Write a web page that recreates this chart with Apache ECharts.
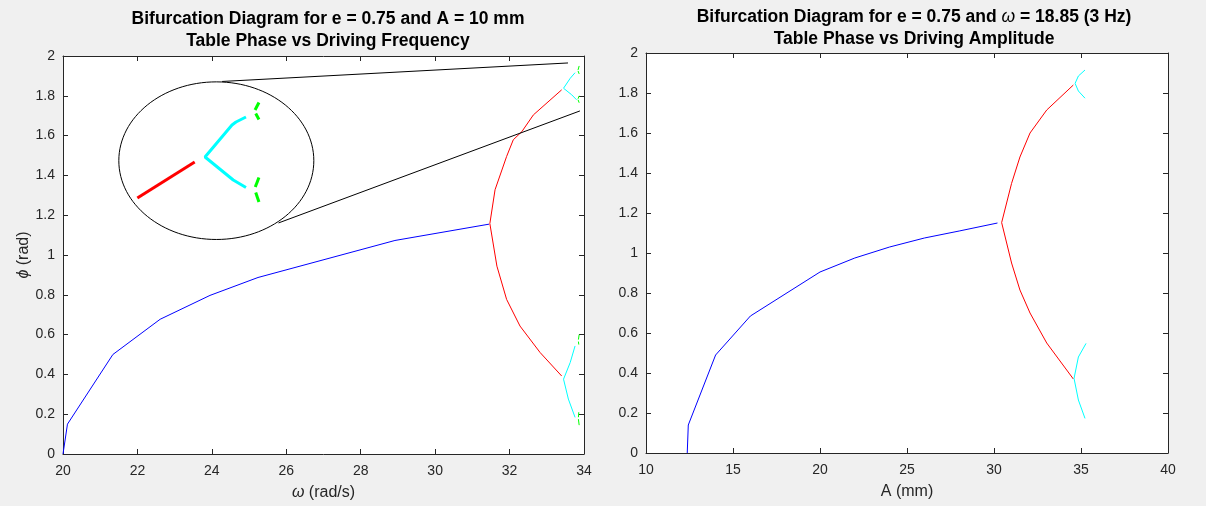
<!DOCTYPE html>
<html>
<head>
<meta charset="utf-8">
<script src="https://cdn.jsdelivr.net/npm/echarts@6/dist/echarts.min.js"></script>
<style>
  html, body { margin: 0; padding: 0; background: #f0f0f0; }
  #chart { width: 1206px; height: 506px; }
</style>
</head>
<body>
<div id="chart"></div>
<script>
// ---- Frequency sweep, e = 0.75, A = 10 mm : [omega (rad/s), phi (rad)] ----
const freqPeriod1 = [[20.0, 0], [20.12, 0.15], [21.34, 0.50], [22.61, 0.677], [23.95, 0.797],
                     [25.24, 0.887], [28.92, 1.073], [31.45, 1.155]];
const freqPeriod2 = [[33.40, 1.830], [32.64, 1.704], [32.33, 1.620], [32.10, 1.579], [31.92, 1.495],
                     [31.61, 1.328], [31.47, 1.158], [31.66, 0.944], [31.92, 0.777], [32.28, 0.643],
                     [32.82, 0.510], [33.40, 0.392]];
const freqPeriod4 = [
  [[33.76, 1.916], [33.63, 1.888], [33.45, 1.838], [33.67, 1.805], [33.80, 1.780]],
  [[33.76, 0.543], [33.63, 0.460], [33.45, 0.376], [33.58, 0.276], [33.76, 0.184]]
];
const freqPeriod8 = [
  [[33.87, 1.950], [33.84, 1.930]], [[33.84, 1.925], [33.87, 1.910]],
  [[33.87, 1.800], [33.84, 1.785]], [[33.84, 1.780], [33.87, 1.765]],
  [[33.87, 0.600], [33.85, 0.575]], [[33.85, 0.565], [33.86, 0.550]],
  [[33.86, 0.210], [33.85, 0.185]], [[33.85, 0.175], [33.87, 0.145]]
];

// ---- Magnified view of the upper branch near omega = 33.5 rad/s ----
const zoomPeriod2 = [[32.83, 1.758], [33.33, 1.830]];
const zoomPeriod4 = [[33.777, 1.920], [33.69, 1.910], [33.655, 1.904], [33.42, 1.840],
                     [33.666, 1.794], [33.777, 1.779]];
const zoomPeriod8 = [
  [[33.89, 1.949], [33.856, 1.934]], [[33.862, 1.927], [33.89, 1.915]],
  [[33.89, 1.799], [33.858, 1.780]], [[33.862, 1.769], [33.89, 1.750]]
];
const zoomWindow = { omega: [32.67, 34.37], phi: [1.674, 1.99] };
// lens outline (centre and semi-axes, in omega / phi units) and its two rays
const lensFrame = { center: [24.12, 1.474], semiAxes: [2.62, 0.396] };
const lensRays = [
  [[24.27, 1.872], [33.57, 1.965]],
  [[25.79, 1.161], [33.89, 1.724]]
];

// ---- Amplitude sweep, e = 0.75, omega = 18.85 rad/s : [A (mm), phi (rad)] ----
const ampPeriod1 = [[12.37, 0], [12.43, 0.14], [14.0, 0.49], [16.0, 0.685], [20.0, 0.905],
                    [22.0, 0.975], [24.0, 1.03], [26.0, 1.075], [28.0, 1.11], [30.2, 1.15]];
const ampPeriod2 = [[34.56, 1.840], [33.03, 1.715], [32.07, 1.600], [31.49, 1.480], [31.01, 1.348],
                    [30.44, 1.152], [31.01, 0.950], [31.49, 0.815], [32.07, 0.700], [33.03, 0.550],
                    [34.56, 0.370]];
const ampPeriod4 = [
  [[35.23, 1.915], [34.85, 1.885], [34.66, 1.848], [34.85, 1.810], [35.23, 1.774]],
  [[35.29, 0.548], [34.85, 0.480], [34.60, 0.373], [34.85, 0.265], [35.23, 0.173]]
];

// ---- Axes ----
const freqAxis = { min: 20, max: 34, interval: 2 };
const ampAxis = { min: 10, max: 40, interval: 5 };
const phiAxis = { min: 0, max: 2, interval: 0.2 };

const FONT = '"Liberation Sans", Arial, Helvetica, sans-serif';
const AXIS_COLOR = '#262626';
const COLORS = { p1: '#0000ff', p2: '#ff0000', p4: '#00ffff', p8: '#00ff00' };

function valueAxis(gridIndex, range, position, extra) {
  return Object.assign({
    type: 'value', gridIndex, position,
    min: range.min, max: range.max, interval: range.interval,
    axisLine: { show: true, onZero: false, lineStyle: { color: AXIS_COLOR, width: 1 } },
    axisTick: { show: true, inside: true, length: 5, lineStyle: { color: AXIS_COLOR } },
    axisLabel: { show: true, color: AXIS_COLOR, fontSize: 14, fontFamily: FONT,
                 margin: position === 'bottom' ? 10 : 8 },
    splitLine: { show: false }
  }, extra || {});
}
function mirrorAxis(gridIndex, range, position) {
  return valueAxis(gridIndex, range, position, { axisLabel: { show: false } });
}
const nameStyle = {
  color: AXIS_COLOR, fontSize: 16, fontFamily: FONT,
  rich: { i: { fontStyle: 'italic', fontSize: 16, fontFamily: FONT, color: AXIS_COLOR } }
};

function line(data, color, xi, yi, width, z) {
  return {
    type: 'line', data, xAxisIndex: xi, yAxisIndex: yi, symbol: 'none', silent: true,
    animation: false, z: z || 2,
    lineStyle: { color, width: width || 1 }
  };
}

const series = [];
// frequency sweep
series.push(line(freqPeriod1, COLORS.p1, 0, 0));
series.push(line(freqPeriod2, COLORS.p2, 0, 0));
freqPeriod4.forEach(s => series.push(line(s, COLORS.p4, 0, 0)));
freqPeriod8.forEach(s => series.push(line(s, COLORS.p8, 0, 0)));
// rays from the lens to the region it magnifies
lensRays.forEach(s => series.push(line(s, '#000000', 0, 0, 1, 4)));
// lens outline
series.push({
  type: 'custom', xAxisIndex: 0, yAxisIndex: 0, z: 5, silent: true, animation: false, clip: false,
  data: [[lensFrame.center[0], lensFrame.center[1], lensFrame.semiAxes[0], lensFrame.semiAxes[1]]],
  renderItem(params, api) {
    const c = api.coord([api.value(0), api.value(1)]);
    const s = api.size([api.value(2), api.value(3)]);
    return {
      type: 'ellipse',
      shape: { cx: c[0], cy: c[1], rx: s[0], ry: s[1] },
      style: { fill: '#ffffff', stroke: '#000000', lineWidth: 1 }
    };
  }
});
// magnified curves
series.push(line(zoomPeriod2, COLORS.p2, 4, 4, 3, 6));
series.push(line(zoomPeriod4, COLORS.p4, 4, 4, 3, 6));
zoomPeriod8.forEach(s => series.push(line(s, COLORS.p8, 4, 4, 3, 6)));
// amplitude sweep
series.push(line(ampPeriod1, COLORS.p1, 2, 2));
series.push(line(ampPeriod2, COLORS.p2, 2, 2));
ampPeriod4.forEach(s => series.push(line(s, COLORS.p4, 2, 2)));

const titleStyle = {
  fontSize: 17.5, fontWeight: 'bold', color: '#000000', fontFamily: FONT, lineHeight: 22,
  rich: { i: { fontStyle: 'italic', fontWeight: 'normal', fontSize: 17.5, fontFamily: FONT, color: '#000000', lineHeight: 22 } }
};

const option = {
  backgroundColor: '#f0f0f0',
  animation: false,
  title: [
    { text: 'Bifurcation Diagram for e = 0.75 and A = 10 mm\nTable Phase vs Driving Frequency',
      left: 323, top: 3, textAlign: 'center', textStyle: titleStyle },
    { text: 'Bifurcation Diagram for e = 0.75 and {i|ω} = 18.85 (3 Hz)\nTable Phase vs Driving Amplitude',
      left: 909, top: 1, textAlign: 'center', textStyle: titleStyle }
  ],
  grid: [
    { left: 63, top: 56, width: 521, height: 399, show: true, backgroundColor: '#ffffff', borderWidth: 0 },
    { left: 646, top: 53, width: 522, height: 400, show: true, backgroundColor: '#ffffff', borderWidth: 0 },
    { left: 119, top: 82, width: 195, height: 158, show: false }
  ],
  xAxis: [
    valueAxis(0, freqAxis, 'bottom', {
      name: '{i|ω} (rad/s)', nameLocation: 'middle', nameGap: 31, nameTextStyle: nameStyle
    }),
    mirrorAxis(0, freqAxis, 'top'),
    valueAxis(1, ampAxis, 'bottom', {
      name: 'A (mm)', nameLocation: 'middle', nameGap: 31, nameTextStyle: nameStyle
    }),
    mirrorAxis(1, ampAxis, 'top'),
    { type: 'value', gridIndex: 2, show: false, min: zoomWindow.omega[0], max: zoomWindow.omega[1] }
  ],
  yAxis: [
    valueAxis(0, phiAxis, 'left', {
      name: '{i|ϕ} (rad)', nameLocation: 'middle', nameGap: 25, nameTextStyle: nameStyle
    }),
    mirrorAxis(0, phiAxis, 'right'),
    valueAxis(1, phiAxis, 'left'),
    mirrorAxis(1, phiAxis, 'right'),
    { type: 'value', gridIndex: 2, show: false, min: zoomWindow.phi[0], max: zoomWindow.phi[1] }
  ],
  series
};

const chart = echarts.init(document.getElementById('chart'), null, { renderer: 'canvas' });
chart.setOption(option);
</script>
</body>
</html>
